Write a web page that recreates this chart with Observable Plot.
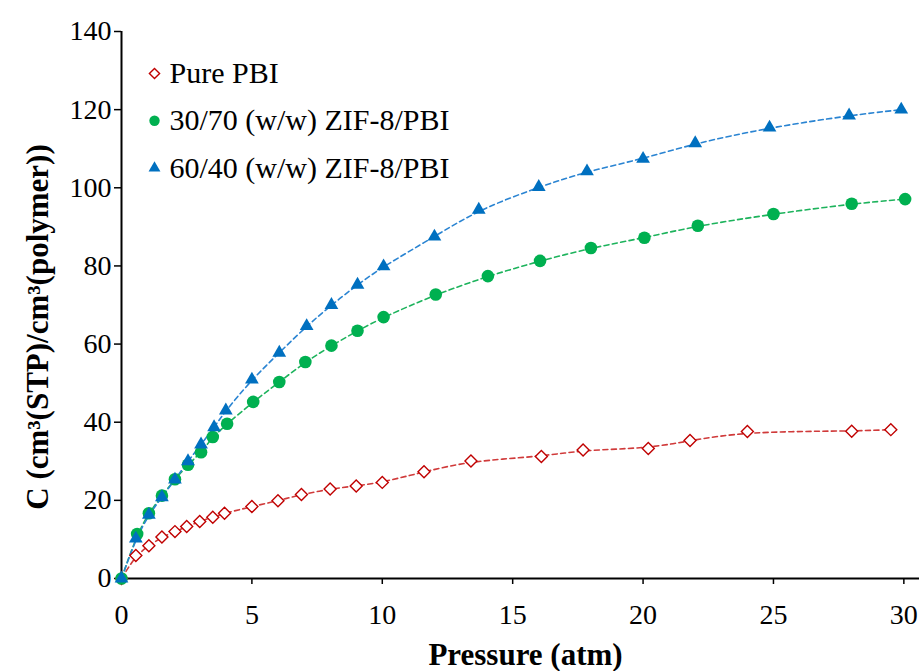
<!DOCTYPE html>
<html><head><meta charset="utf-8">
<script src="https://cdn.jsdelivr.net/npm/d3@7"></script>
<script src="https://cdn.jsdelivr.net/npm/@observablehq/plot@0.6"></script>
<style>body{margin:0;background:#fff}#chart{width:919px;height:671px}</style>
</head><body><div id="chart"></div>
<script>
const seriesNames = ["Pure PBI", "30/70 (w/w) ZIF-8/PBI", "60/40 (w/w) ZIF-8/PBI"];
const purePressure = [0,0.55,1.05,1.55,2.05,2.5,3.0,3.5,3.95,5.0,6.0,6.9,8.0,9.0,10.0,11.6,13.4,16.1,17.7,20.2,21.8,24.0,28.0,29.5];
const pureC = [0,5.9,8.4,10.6,12.0,13.3,14.6,15.7,16.7,18.4,19.9,21.5,22.9,23.7,24.6,27.3,30.1,31.2,32.9,33.3,35.3,37.6,37.7,38.1];
const zif30Pressure = [0,0.6,1.05,1.55,2.05,2.55,3.05,3.5,4.05,5.05,6.05,7.05,8.05,9.05,10.05,12.05,14.05,16.05,18.0,20.05,22.1,25.0,28.0,30.05];
const zif30C = [0,11.4,16.7,21.2,25.4,29.1,32.3,36.2,39.6,45.2,50.3,55.4,59.6,63.4,66.9,72.7,77.4,81.3,84.6,87.2,90.3,93.3,95.9,97.1];
const zif60Pressure = [0,0.55,1.05,1.55,2.05,2.55,3.05,3.55,4.0,5.0,6.05,7.1,8.05,9.05,10.05,12.0,13.7,16.0,17.85,20.0,22.0,24.85,27.9,29.9];
const zif60C = [0,10.2,16.3,20.8,25.3,30.0,34.3,38.7,43.0,50.9,57.8,64.6,70.0,75.2,79.9,87.5,94.4,100.2,104.2,107.4,111.4,115.4,118.5,120.0];
const xTicks = [0,5,10,15,20,25,30];
const yTicks = [0,20,40,60,80,100,120,140];
const xTitle = "Pressure (atm)";
const yTitle = "C (cm³(STP)/cm³(polymer))";

const toRows = (ps, cs) => ps.map((p, i) => ({p, c: cs[i]}));
const pure = toRows(purePressure, pureC);
const zif30 = toRows(zif30Pressure, zif30C);
const zif60 = toRows(zif60Pressure, zif60C);

const styles = [
  {symbol: "diamond2", r: 5.4, fill: "white", stroke: "#C00000", strokeWidth: 1.4, line: "#D03A3A", lr: 4.6},
  {symbol: "circle", r: 6.3, fill: "#00B050", stroke: "none", strokeWidth: 0, line: "#1DB35C", lr: 5.2},
  {symbol: "triangle", r: 5.1, fill: "#0070C0", stroke: "none", strokeWidth: 0, line: "#2A84D2", lr: 4.4}
];
const datasets = [pure, zif30, zif60];

const marks = [
  Plot.axisX({ticks: xTicks, tickSize: 6, tickPadding: 20, label: null, strokeWidth: 1.5}),
  Plot.axisY({ticks: yTicks, tickSize: 7, tickPadding: 3, label: null, strokeWidth: 1.5}),
  Plot.ruleX([0], {stroke: "#000", strokeWidth: 2}),
  Plot.ruleY([0], {stroke: "#000", strokeWidth: 2})
];
datasets.forEach((d, i) => {
  marks.push(Plot.line(d, {x: "p", y: "c", stroke: styles[i].line, strokeWidth: 1.6, strokeDasharray: "5,3.5", curve: "basis"}));
});
datasets.forEach((d, i) => {
  const s = styles[i];
  marks.push(Plot.dot(d, {x: "p", y: "c", symbol: () => s.symbol, r: s.r, fill: s.fill, stroke: s.stroke, strokeWidth: s.strokeWidth}));
});
seriesNames.forEach((name, i) => {
  const s = styles[i];
  marks.push(Plot.dot([name], {frameAnchor: "top-left", dx: 33, dy: 42 + i * 47.3, symbol: () => s.symbol, r: s.lr, fill: s.fill, stroke: s.stroke, strokeWidth: s.strokeWidth}));
  marks.push(Plot.text([name], {text: d => d, frameAnchor: "top-left", dx: 48, dy: 42 + i * 47.3, textAnchor: "start", lineAnchor: "middle", fontSize: 30, fill: "#000"}));
});
marks.push(Plot.text([xTitle], {text: d => d, frameAnchor: "bottom", dx: 5, dy: 77, lineAnchor: "middle", fontSize: 31, fontWeight: "bold", fill: "#000"}));
marks.push(Plot.text([yTitle], {text: d => d, frameAnchor: "left", dx: -83, dy: 22, rotate: -90, lineAnchor: "middle", textAnchor: "middle", fontSize: 31, fontWeight: "bold", fill: "#000"}));

const chart = Plot.plot({
  width: 919, height: 671,
  marginLeft: 121, marginRight: 0, marginTop: 31, marginBottom: 93,
  style: {fontFamily: "'Liberation Serif', 'Times New Roman', serif", fontSize: "28px", background: "#fff", color: "#000"},
  x: {domain: [0, 30.6]},
  y: {domain: [0, 140]},
  marks
});
document.getElementById("chart").appendChild(chart);
</script></body></html>
